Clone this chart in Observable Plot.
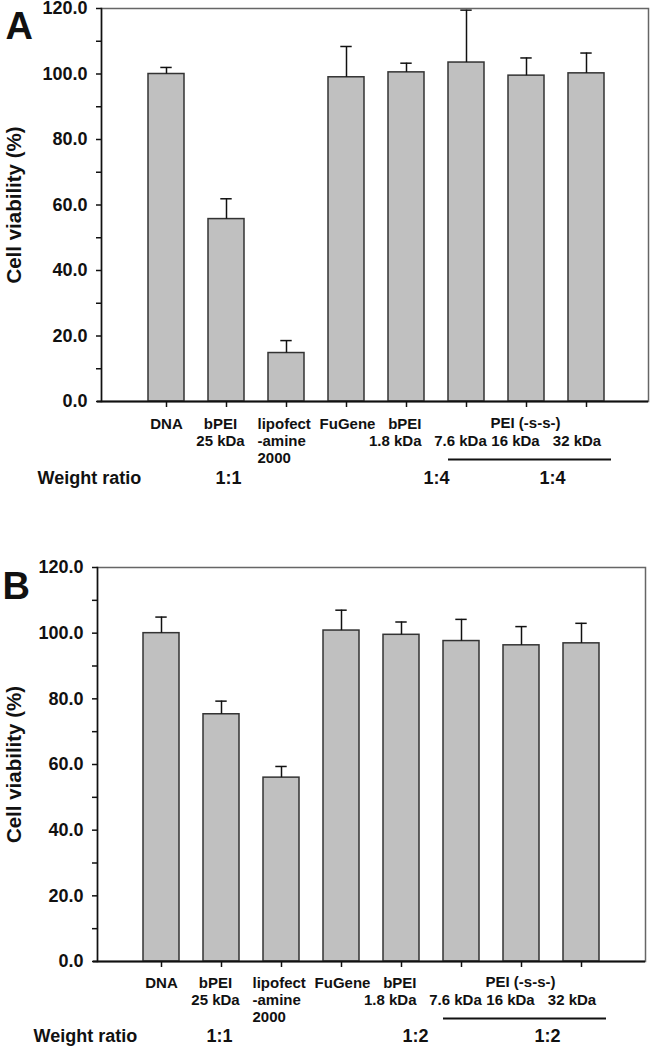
<!DOCTYPE html>
<html><head><meta charset="utf-8">
<script src="https://cdn.jsdelivr.net/npm/d3@7"></script>
<script src="https://cdn.jsdelivr.net/npm/@observablehq/plot@0.6"></script>
<style>
body{margin:0;background:#fff;}
#root{width:653px;}
#root svg{display:block;}
</style></head><body><div id="root"></div>
<script>
// ---- data ----
const categories = ["DNA", "bPEI 25 kDa", "lipofectamine 2000", "FuGene", "bPEI 1.8 kDa", "PEI (-s-s-) 7.6 kDa", "PEI (-s-s-) 16 kDa", "PEI (-s-s-) 32 kDa"];
const tickLabels = ["DNA", "bPEI\n25 kDa", "lipofect\n-amine\n2000", "FuGene", "bPEI\n1.8 kDa", "7.6 kDa", "16 kDa", "32 kDa"];
const groupLabel = "PEI (-s-s-)";
const viabilityA = [100.0, 55.7, 14.8, 99.0, 100.5, 103.5, 99.5, 100.2];
const errorA = [2.0, 6.2, 3.8, 9.4, 2.8, 16.0, 5.4, 6.2];
const viabilityB = [100.0, 75.3, 56.0, 100.8, 99.5, 97.6, 96.3, 96.9];
const errorB = [4.9, 4.0, 3.4, 6.2, 3.9, 6.6, 5.7, 6.1];
const ratioLabelsA = ["1:1", "1:4", "1:4"];
const ratioLabelsB = ["1:1", "1:2", "1:2"];
const yTicks = [0, 20, 40, 60, 80, 100, 120];
const yMinorTicks = [10, 30, 50, 70, 90, 110];
const yLabel = "Cell viability (%)";
const ratioTitle = "Weight ratio";
const panelLetters = ["A", "B"];

// ---- layout (not data) ----
const labelLayout = [
  {dx: 0, anchor: "middle", line: 0},
  {dx: -6, anchor: "middle", line: 0},
  {dx: -29, anchor: "start", line: 0},
  {dx: 1, anchor: "middle", line: 0},
  {dx: 15, anchor: "end", line: 0},
  {dx: -6, anchor: "middle", line: 1},
  {dx: -11, anchor: "middle", line: 1},
  {dx: -9.5, anchor: "middle", line: 1}
];
const lineGap = 16.7;
const font = "'Liberation Sans', Arial, Helvetica, sans-serif";

function panel(values, errors, ratios, letter, L) {
  const data = categories.map((c, i) => ({cat: c, v: values[i], e: errors[i]}));
  const marks = [
    Plot.barY(data, {x: "cat", y: "v", fill: "#c0c0c0", stroke: "#333", strokeWidth: 1.5}),
    Plot.ruleX(data, {x: "cat", y1: "v", y2: d => d.v + d.e, stroke: "#111", strokeWidth: 1.5}),
    Plot.tickY(data, {x: "cat", y: d => d.v + d.e, stroke: "#111", strokeWidth: 1.5, insetLeft: 12.3, insetRight: 12.3}),
    Plot.frame({stroke: "#666", strokeWidth: 1.5}),
    Plot.frame({anchor: "left", stroke: "#111", strokeWidth: 1.5}),
    Plot.ruleY([0], {stroke: "#111", strokeWidth: 2, insetLeft: -4}),
    Plot.axisY({ticks: yTicks, tickFormat: d => d.toFixed(1), tickSize: 5, tickPadding: 9, label: null,
      fontSize: 18, fontWeight: "bold", strokeWidth: 1.5, stroke: "#111"}),
    Plot.axisY({ticks: yMinorTicks, tickFormat: () => "", tickSize: 5, label: null, strokeWidth: 1.5, stroke: "#111"}),
    Plot.axisX({tickSize: 6, tickFormat: () => "", label: null, strokeWidth: 1.5, stroke: "#111"}),
    ...tickLabels.map((t, i) => Plot.text([t], {
      x: () => categories[i], text: d => d, frameAnchor: "bottom",
      dy: L.labelDy + labelLayout[i].line * lineGap, dx: labelLayout[i].dx,
      textAnchor: labelLayout[i].anchor, lineAnchor: "top", lineHeight: 1.11,
      fontSize: 15, fontWeight: "bold", fill: "#111"
    })),
    Plot.text([groupLabel], {x: () => categories[6], text: d => d, frameAnchor: "bottom", dy: L.labelDy, dx: -1,
      lineAnchor: "top", fontSize: 15, fontWeight: "bold", fill: "#111"}),
    Plot.ruleY([0], {x1: () => categories[5], x2: () => categories[7], dy: L.underlineDy, insetRight: -7,
      stroke: "#111", strokeWidth: 2.2}),
    ...ratios.map((r, k) => Plot.text([r], {
      x: () => categories[L.ratioPos[k].cat], text: d => d, dx: L.ratioPos[k].dx,
      frameAnchor: "bottom", dy: L.ratioDy, lineAnchor: "bottom", fontSize: 18, fontWeight: "bold", fill: "#111"
    })),
    Plot.text([ratioTitle], {text: d => d, frameAnchor: "bottom-left", dx: L.ratioTitleX - L.left, dy: L.ratioDy,
      textAnchor: "start", lineAnchor: "bottom", fontSize: 18, fontWeight: "bold", fill: "#111"}),
    Plot.text([letter], {text: d => d, frameAnchor: "top-left", dx: L.letterX - L.left, dy: L.letterBase - L.top,
      textAnchor: "start", lineAnchor: "bottom", fontSize: 38, fontWeight: "bold", fill: "#111"}),
    Plot.text([yLabel], {text: d => d, frameAnchor: "left", rotate: -90, dx: 14 - L.left,
      textAnchor: "middle", lineAnchor: "middle", fontSize: 20.5, fontWeight: "bold", fill: "#111"})
  ];
  return Plot.plot({
    width: 653, height: L.height,
    marginTop: L.top, marginBottom: L.bottom, marginLeft: L.left, marginRight: L.right,
    x: {type: "band", domain: categories, paddingInner: 0.4, paddingOuter: 0.7, align: L.align},
    y: {domain: [0, 120]},
    style: {fontFamily: font, fontWeight: "bold", fontSize: "18px", background: "white", color: "#111", overflow: "visible"},
    marks
  });
}

const layoutA = {height: 510, top: 8, bottom: 109, left: 101, right: 5, align: 0.52,
  labelDy: 16, ratioDy: 82, ratioTitleX: 37, letterX: 5, letterBase: 38, underlineDy: 58,
  ratioPos: [{cat: 1, dx: 2}, {cat: 4, dx: 30}, {cat: 6, dx: 26}]};
const layoutB = {height: 540, top: 57, bottom: 89, left: 97, right: 8, align: 0.5,
  labelDy: 15, ratioDy: 80, ratioTitleX: 33, letterX: 2, letterBase: 88, underlineDy: 57,
  ratioPos: [{cat: 1, dx: -2}, {cat: 4, dx: 14}, {cat: 6, dx: 26}]};

const root = document.getElementById("root");
root.appendChild(panel(viabilityA, errorA, ratioLabelsA, panelLetters[0], layoutA));
root.appendChild(panel(viabilityB, errorB, ratioLabelsB, panelLetters[1], layoutB));
</script></body></html>
